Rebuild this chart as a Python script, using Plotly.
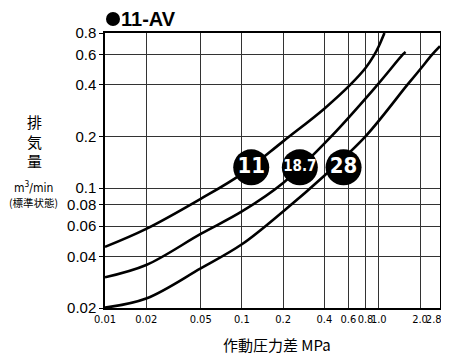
import math
import plotly.graph_objects as go

# ---- data ----
x_11 = [0.01, 0.02, 0.05, 0.1, 0.2, 0.4, 0.62, 0.8, 0.92, 1.0, 1.1]
y_11 = [0.0454, 0.0578, 0.0865, 0.121, 0.187, 0.29, 0.40, 0.50, 0.59, 0.67, 0.80]

x_187 = [0.01, 0.02, 0.05, 0.1, 0.2, 0.45, 0.98, 1.5, 1.57]
y_187 = [0.0302, 0.0356, 0.054, 0.073, 0.107, 0.20, 0.40, 0.60, 0.62]

x_28 = [0.01, 0.02, 0.05, 0.1, 0.2, 0.4, 0.8, 1.62, 2.0, 2.46, 2.8]
y_28 = [0.0201, 0.0227, 0.034, 0.047, 0.073, 0.118, 0.20, 0.40, 0.49, 0.60, 0.67]

series_names = ["11", "18.7", "28"]
badge_x = [0.117, 0.265, 0.553]
badge_y = [0.132, 0.132, 0.132]

NB = "\u00a0"
x_ticks = [0.01, 0.02, 0.05, 0.1, 0.2, 0.4, 0.6, 0.8, 1.0, 2.0, 2.8]
x_ticktext = ["0.01", "0.02", "0.05", "0.1", "0.2", "0.4", "0.6", "0.8", "1.0", "2.0", "2.8" + NB * 4]
y_ticks = [0.02, 0.04, 0.06, 0.08, 0.1, 0.2, 0.4, 0.6, 0.8]
y_ticktext = ["0.02", "0.04", "0.06", "0.08", "0.1", "0.2", "0.4", "0.6", "0.8"]

# ---- figure geometry (page body has an 8px margin on every side) ----
OFF = 8
W, H = 449 - OFF, 363 - 2 * OFF
L, T = 105 - OFF, 33 - OFF
R = W - (440 - OFF)
B = H - (308 - OFF)
pw, ph = W - L - R, H - T - B

def px(x):
    return (x - OFF - L) / pw

def py(y):
    return (H - B - (y - OFF)) / ph

fig = go.Figure()
for xs, ys in [(x_11, y_11), (x_187, y_187), (x_28, y_28)]:
    fig.add_trace(go.Scatter(x=xs, y=ys, mode="lines",
                             line=dict(color="black", width=2.6, shape="spline", smoothing=1.0),
                             hoverinfo="skip", showlegend=False))

narrow = "DejaVu Sans Condensed, Liberation Sans Narrow, Arial Narrow, Liberation Sans, sans-serif"
fig.add_trace(go.Scatter(
    x=badge_x, y=badge_y, mode="markers+text",
    marker=dict(size=36, color="black"),
    text=["<b>%s</b>" % s for s in series_names],
    textposition="middle center",
    textfont=dict(color="white", size=[22, 15, 22], family=narrow),
    showlegend=False, hoverinfo="skip"))

fig.update_xaxes(type="log", range=[math.log10(0.01), math.log10(2.8)],
                 tickvals=x_ticks, ticktext=x_ticktext, tickangle=0,
                 tickfont=dict(family=narrow, size=11, color="black"),
                 ticklabeloverflow="allow",
                 showgrid=True, gridcolor="#333333", gridwidth=1,
                 showline=True, linecolor="black", linewidth=1.5, mirror=True,
                 ticks="", zeroline=False, automargin=False)
fig.update_yaxes(type="log", range=[math.log10(0.02), math.log10(0.8)],
                 tickvals=y_ticks, ticktext=y_ticktext,
                 tickfont=dict(family="Liberation Sans, Arial, sans-serif", size=15, color="black"),
                 showgrid=True, gridcolor="#333333", gridwidth=1,
                 showline=True, linecolor="black", linewidth=1.5, mirror=True,
                 ticks="outside", ticklen=4, tickcolor="black", zeroline=False, automargin=False)

anns = []
def ann(text, x, y, size, family="Liberation Sans, Arial, sans-serif", xanchor="center"):
    anns.append(dict(text=text, x=px(x), y=py(y), xref="paper", yref="paper",
                     showarrow=False, xanchor=xanchor, yanchor="middle",
                     font=dict(size=size, color="black", family=family)))

cjk = "Noto Sans CJK JP, sans-serif"
ann("<b>11-AV</b>", 119, 19, 20, xanchor="left")
ann("排<br>気<br>量", 34, 141, 15, cjk)
ann("m<sup>3</sup>/min", 33, 187, 12, narrow)
ann("(標準状態)", 33, 202, 10.5, cjk)
ann("作動圧力差 MPa", 277, 344, 15, cjk)

shapes = [dict(type="circle", xref="paper", yref="paper",
               x0=px(106), x1=px(120), y0=py(26), y1=py(12),
               fillcolor="black", line=dict(width=0))]

fig.update_layout(width=W, height=H, margin=dict(l=L, r=R, t=T, b=B, autoexpand=False),
                  paper_bgcolor="white", plot_bgcolor="white",
                  annotations=anns, shapes=shapes, showlegend=False)

fig.write_html("out.html")
